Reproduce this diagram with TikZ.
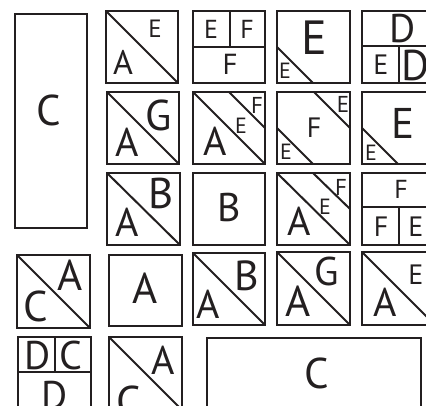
\documentclass[tikz,border=0pt]{standalone}
\usepackage{fontspec}
\setmainfont{PT Sans}
\definecolor{ink}{HTML}{231F20}
\begin{document}
\begin{tikzpicture}[x=1pt,y=-1pt,
  box/.style={draw=ink,line width=2.8pt},
  cut/.style={draw=ink,line width=2pt},
  lt/.style={text=ink,inner sep=0pt,font=\fontsize{#1pt}{#1pt}\selectfont}]
\useasboundingbox (0,0) rectangle (426,406);
\clip (0,0) rectangle (426,406);
% big C left
\draw[box] (15,14) rectangle (87,228);
\node[lt=43] (bc1) at (49,110) {C};
% Row 1
\draw[box] (106,11) rectangle (178,83);
\draw[cut] (106,11) -- (178,83);
\node[lt=34] (r1a) at (123,62) {A};
\node[lt=25] (r1e) at (155,29) {E};

\draw[box] (193,11) rectangle (265,83);
\draw[cut] (193,47) -- (265,47) (230,11) -- (230,47);
\node[lt=26] (r2e) at (211,29) {E};
\node[lt=26] (r2f) at (247,29) {F};
\node[lt=29] (r2g) at (230,64) {F};

\draw[box] (277,11) rectangle (350,83);
\draw[cut] (277,47) -- (313,83);
\node[lt=48] (r3e) at (314,38) {E};
\node[lt=22] (r3s) at (285,71) {E};

\draw[box] (362,11) rectangle (436,83);
\draw[cut] (362,46) -- (436,46) (399,46) -- (399,83);
\node[lt=40] (r4d) at (403,29) {D};
\node[lt=28] (r4e) at (381,65) {E};
\node[lt=43] (r4f) at (416,65) {D};
% Row 2
\draw[box] (107,92) rectangle (179,164);
\draw[cut] (107,92) -- (179,164);
\node[lt=40] (s1a) at (127,142) {A};
\node[lt=43] (s1g) at (159,115) {G};

\draw[box] (193,92) rectangle (265,164);
\draw[cut] (193,92) -- (265,164) (229,92) -- (265,128);
\node[lt=40] (s2a) at (215,141) {A};
\node[lt=22] (s2e) at (241,126) {E};
\node[lt=23] (s2f) at (257,105) {F};

\draw[box] (277,92) rectangle (350,164);
\draw[cut] (314,92) -- (350,128) (277,128) -- (313,164);
\node[lt=28] (s3f) at (314,128) {F};
\node[lt=23] (s3e) at (343,104) {E};
\node[lt=22] (s3s) at (286,152) {E};

\draw[box] (362,92) rectangle (436,164);
\draw[cut] (362,128) -- (398,164);
\node[lt=43] (s4e) at (403,123) {E};
\node[lt=22] (s4s) at (371,153) {E};
% Row 3
\draw[box] (107,173) rectangle (180,245);
\draw[cut] (107,173) -- (180,245);
\node[lt=40] (t1a) at (127,222) {A};
\node[lt=43] (t1b) at (161,193) {B};

\draw[box] (193,173) rectangle (265,245);
\node[lt=40] (t2b) at (229,208) {B};

\draw[box] (277,173) rectangle (350,245);
\draw[cut] (277,173) -- (350,245) (313,173) -- (350,209);
\node[lt=40] (t3a) at (299,221) {A};
\node[lt=22] (t3e) at (325,207) {E};
\node[lt=23] (t3f) at (341,187) {F};

\draw[box] (362,173) rectangle (436,245);
\draw[cut] (362,207) -- (436,207) (399,207) -- (399,245);
\node[lt=26] (t4f) at (401,189) {F};
\node[lt=28] (t4g) at (381,227) {F};
\node[lt=28] (t4e) at (416,227) {E};
% Row 4
\draw[box] (17,255) rectangle (90,328);
\draw[cut] (17,255) -- (90,328);
\node[lt=43] (u1c) at (36,306) {C};
\node[lt=43] (u1a) at (70,275) {A};

\draw[box] (109,255) rectangle (182,326);
\node[lt=43] (u2a) at (145,288) {A};

\draw[box] (193,253) rectangle (265,325);
\draw[cut] (193,253) -- (265,325);
\node[lt=40] (u3a) at (208,304) {A};
\node[lt=42] (u3b) at (247,276) {B};

\draw[box] (277,252) rectangle (350,325);
\draw[cut] (277,252) -- (350,325);
\node[lt=43] (u4a) at (298,301) {A};
\node[lt=40] (u4g) at (327,272) {G};

\draw[box] (362,252) rectangle (436,325);
\draw[cut] (362,252) -- (436,326);
\node[lt=40] (u5a) at (385,302) {A};
\node[lt=28] (u5e) at (416,275) {E};
% Row 5
\draw[box] (18,337) rectangle (91,412);
\draw[cut] (18,372) -- (91,372) (55,337) -- (55,372);
\node[lt=40] (v1d) at (38,356) {D};
\node[lt=40] (v1c) at (71,356) {C};
\node[lt=40] (v1e) at (55,396) {D};

\draw[box] (109,337) rectangle (182,412);
\draw[cut] (109,337) -- (182,410);
\node[lt=40] (v2a) at (163,360) {A};
\node[lt=43] (v2c) at (129,401) {C};

\draw[box] (207,338) rectangle (421,412);
\node[lt=43] (v3c) at (317,373) {C};
\end{tikzpicture}
\end{document}
